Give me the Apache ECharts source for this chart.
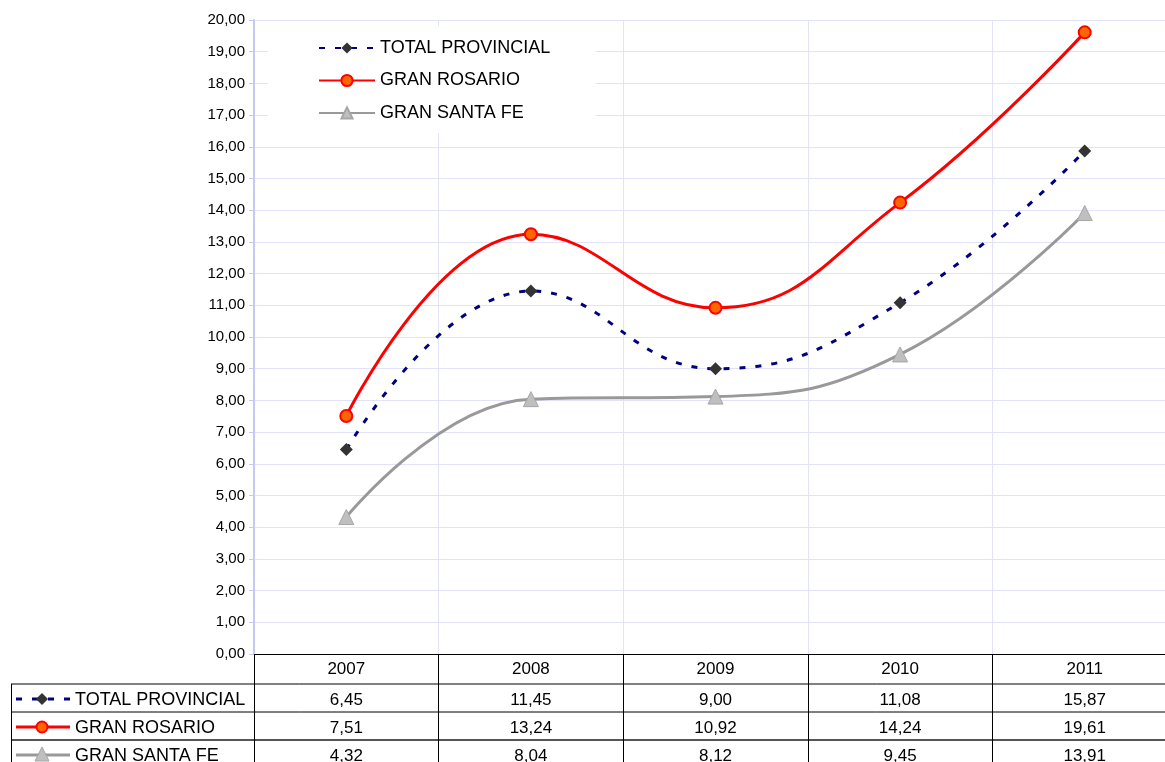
<!DOCTYPE html>
<html><head><meta charset="utf-8">
<script src="https://cdn.jsdelivr.net/npm/echarts@6/dist/echarts.min.js"></script>
<style>html,body{margin:0;padding:0;background:#fff}#c{width:1165px;height:762px}</style>
</head><body><div id="c"></div>
<script>
const years = ['2007','2008','2009','2010','2011'];
const seriesNames = ['TOTAL PROVINCIAL','GRAN ROSARIO','GRAN SANTA FE'];
const totalProvincial = [6.45, 11.45, 9.00, 11.08, 15.87];
const granRosario = [7.51, 13.24, 10.92, 14.24, 19.61];
const granSantaFe = [4.32, 8.04, 8.12, 9.45, 13.91];
const yTicks = {min: 0, max: 20, interval: 1};

const FONT = 'Liberation Sans, Arial, sans-serif';
const fmt = v => v.toFixed(2).replace('.', ',');
const chart = echarts.init(document.getElementById('c'), null, {renderer: 'canvas'});

const styles = [
  {line: {color: '#000080', width: 3, type: [6, 10]}, symbol: 'diamond', size: 13, item: {color: '#333333', borderColor: '#333333', borderWidth: 0}},
  {line: {color: '#FF0000', width: 3, type: 'solid'}, symbol: 'circle', size: 12, item: {color: '#FF6600', borderColor: '#FF0000', borderWidth: 2}},
  {line: {color: '#999999', width: 3, type: 'solid'}, symbol: 'triangle', size: 15, item: {color: '#BFBFBF', borderColor: '#A6A6A6', borderWidth: 1}}
];
const dataSets = [totalProvincial, granRosario, granSantaFe];

chart.setOption({
  animation: false,
  backgroundColor: '#fff',
  textStyle: {fontFamily: FONT},
  grid: {left: 254, top: 20, right: -12, height: 634, show: false, outerBoundsMode: 'none', containLabel: false},
  legend: {
    orient: 'vertical', left: 268, top: 26, data: seriesNames,
    itemWidth: 56, itemHeight: 14, itemGap: 14.5,
    backgroundColor: '#fff', padding: [13, 45, 11, 50],
    textStyle: {fontFamily: FONT, fontSize: 18, color: '#000'}
  },
  xAxis: {
    type: 'category', data: years, boundaryGap: true,
    axisLine: {lineStyle: {color: '#000', width: 1}},
    axisTick: {show: true, interval: 0, length: 114, lineStyle: {color: '#000', width: 1}},
    axisLabel: {color: '#000', fontSize: 17, fontFamily: FONT, margin: 7},
    splitLine: {show: true, interval: 0, lineStyle: {color: '#E2E2FA', width: 1}}
  },
  yAxis: {
    type: 'value', min: yTicks.min, max: yTicks.max, interval: yTicks.interval,
    axisLine: {show: true, lineStyle: {color: '#C8C8F4', width: 2}},
    axisTick: {show: true, length: 5, lineStyle: {color: '#C8C8F4'}},
    axisLabel: {color: '#000', fontSize: 15, fontFamily: FONT, margin: 9, formatter: v => fmt(v)},
    splitLine: {show: true, lineStyle: {color: '#E2E2FA', width: 1}}
  },
  series: seriesNames.map((n, i) => ({
    name: n, type: 'line', smooth: 0.45, data: dataSets[i],
    symbol: styles[i].symbol, symbolSize: styles[i].size,
    lineStyle: styles[i].line, itemStyle: styles[i].item, z: 3 - i
  }))
});

// Data table below the axis
const g = [];
const xs = years.map((y, i) => chart.convertToPixel({xAxisIndex: 0}, i));
const rowY = [699, 727, 755];
[684, 712, 740].forEach(y => g.push({type: 'line', shape: {x1: 11, y1: y, x2: 1165, y2: y}, style: {stroke: y === 740 ? '#555' : '#000', lineWidth: y === 740 ? 2 : 1}, silent: true}));
g.push({type: 'line', shape: {x1: 11.5, y1: 684, x2: 11.5, y2: 762}, style: {stroke: '#000', lineWidth: 1}});
seriesNames.forEach((n, r) => {
  const y = rowY[r];
  const st = styles[r];
  g.push({type: 'line', shape: {x1: 16, y1: y, x2: 70, y2: y}, style: {stroke: st.line.color, lineWidth: 3, lineDash: r === 0 ? [6, 10] : null}});
  g.push({type: 'text', x: 75, y: y + 1, style: {text: n, font: '18px ' + FONT, fill: '#000', verticalAlign: 'middle'}});
  dataSets[r].forEach((v, i) => {
    g.push({type: 'text', x: xs[i], y: y + 1, style: {text: fmt(v), font: '17px ' + FONT, fill: '#000', align: 'center', verticalAlign: 'middle'}});
  });
});
// table row markers
g.push({type: 'polygon', shape: {points: [[42, 693], [48, 699], [42, 705], [36, 699]]}, style: {fill: '#333'}});
g.push({type: 'circle', shape: {cx: 42, cy: 727, r: 5.5}, style: {fill: '#FF6600', stroke: '#FF0000', lineWidth: 2}});
g.push({type: 'polygon', shape: {points: [[42, 747], [49, 761], [35, 761]]}, style: {fill: '#BFBFBF', stroke: '#A6A6A6', lineWidth: 1}});
chart.setOption({graphic: g});
</script></body></html>
